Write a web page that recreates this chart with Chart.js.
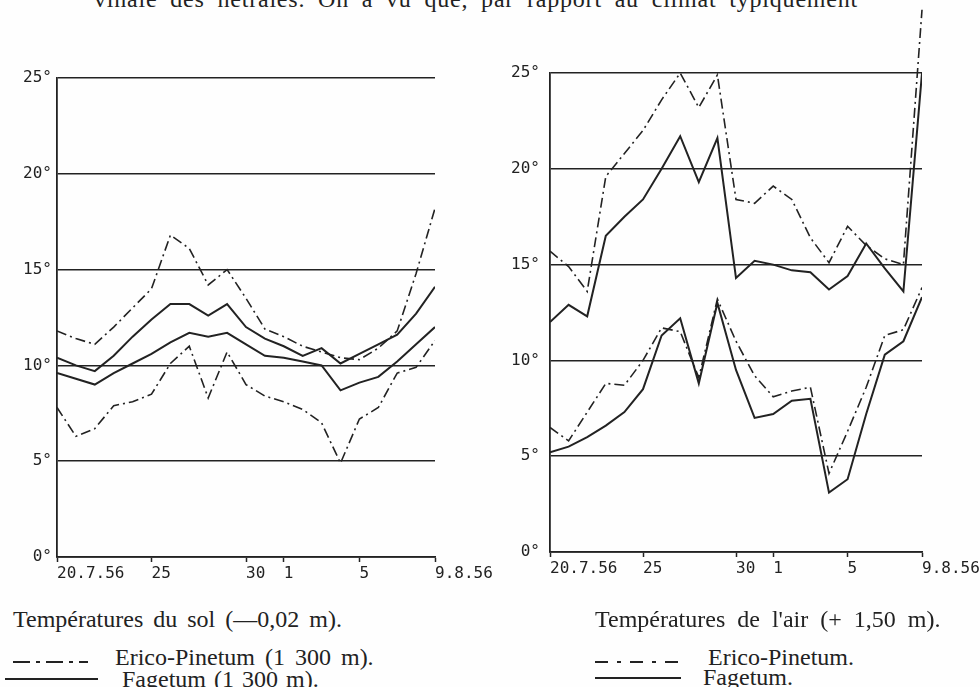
<!DOCTYPE html>
<html>

<head>
   <meta charset="UTF-8">
   <title>Températures du sol et de l'air</title>
   <script src="https://cdn.jsdelivr.net/npm/chart.js@4"></script>
   <style>
      body { margin: 0; width: 980px; height: 687px; background: #fefefe; position: relative; overflow: hidden; }
      canvas { position: absolute; top: 0; }
      #soilChart { left: 0; }
      #airChart { left: 475px; }
      .txt { position: absolute; font-family: "Liberation Serif", serif; font-size: 24px; line-height: 23px; color: #222; white-space: nowrap; }
      svg { position: absolute; }
   </style>
</head>

<body>
   <div class="txt" style="left:94px; top:-12px; letter-spacing:0.8px; word-spacing:6px">vinale des hêtraies. On a vu que, par rapport au climat typiquement</div>

   <canvas id="soilChart" width="500" height="600"></canvas>
   <canvas id="airChart" width="505" height="600"></canvas>

   <!-- left captions -->
   <div class="txt" style="left:13px; top:608px; word-spacing:4px">Températures du sol (—0,02 m).</div>
   <svg style="left:10px; top:656px" width="80" height="10">
      <line x1="3" y1="6" x2="78" y2="6" stroke="#222" stroke-width="2" stroke-dasharray="17 6 4 6" />
   </svg>
   <div class="txt" style="left:115px; top:646px; word-spacing:4px">Erico-Pinetum (1 300 m).</div>
   <svg style="left:3px; top:673px" width="96" height="10">
      <line x1="2" y1="6" x2="95" y2="6" stroke="#222" stroke-width="2" />
   </svg>
   <div class="txt" style="left:122px; top:668px; word-spacing:2px">Fagetum (1 300 m).</div>

   <!-- right captions -->
   <div class="txt" style="left:595px; top:608px; word-spacing:6px">Températures de l'air (+ 1,50 m).</div>
   <svg style="left:593px; top:656px" width="92" height="10">
      <line x1="2" y1="6" x2="90" y2="6" stroke="#222" stroke-width="2" stroke-dasharray="13 9 4 9" />
   </svg>
   <div class="txt" style="left:708px; top:646px">Erico-Pinetum.</div>
   <svg style="left:593px; top:672px" width="90" height="10">
      <line x1="2" y1="6" x2="88" y2="6" stroke="#222" stroke-width="2" />
   </svg>
   <div class="txt" style="left:703px; top:666px">Fagetum.</div>

   <script>
      // days since 20.7.56 (one point per day, 20.7 -> 9.8)
      const days = [0, 1, 2, 3, 4, 5, 6, 7, 8, 9, 10, 11, 12, 13, 14, 15, 16, 17, 18, 19, 20];
      const tickDays = [0, 5, 10, 12, 16, 20];
      const tickLabels = ["20.7.56", "25", "30", "1", "5", "9.8.56"];
      const yTicks = [0, 5, 10, 15, 20, 25];

      // soil temperatures (-0,02 m), max and min
      const soilEricoMax = [11.8, 11.4, 11.1, 12.0, 13.0, 14.0, 16.8, 16.1, 14.2, 15.0, 13.5, 11.9, 11.5, 11.0, 10.7, 10.4, 10.3, 10.9, 11.8, 14.8, 18.2];
      const soilFagetumMax = [10.4, 10.0, 9.7, 10.5, 11.5, 12.4, 13.2, 13.2, 12.6, 13.2, 12.0, 11.4, 11.0, 10.5, 10.9, 10.1, 10.6, 11.1, 11.6, 12.7, 14.1];
      const soilFagetumMin = [9.6, 9.3, 9.0, 9.6, 10.1, 10.6, 11.2, 11.7, 11.5, 11.7, 11.1, 10.5, 10.4, 10.2, 10.0, 8.7, 9.1, 9.4, 10.2, 11.1, 12.0];
      const soilEricoMin = [7.8, 6.3, 6.7, 7.9, 8.1, 8.5, 10.1, 11.0, 8.3, 10.7, 9.0, 8.4, 8.1, 7.7, 7.0, 4.9, 7.2, 7.8, 9.6, 9.9, 11.3];

      // air temperatures (+1,50 m), max and min
      const airEricoMax = [15.7, 14.9, 13.6, 19.6, 20.8, 22.0, 23.6, 25.0, 23.2, 24.9, 18.4, 18.2, 19.1, 18.4, 16.4, 15.1, 17.0, 16.0, 15.3, 15.0, 28.3];
      const airFagetumMax = [12.0, 12.9, 12.3, 16.5, 17.5, 18.4, 20.0, 21.7, 19.3, 21.6, 14.3, 15.2, 15.0, 14.7, 14.6, 13.7, 14.4, 16.1, 14.8, 13.6, 25.0];
      const airFagetumMin = [5.2, 5.5, 6.0, 6.6, 7.3, 8.5, 11.3, 12.2, 8.8, 13.0, 9.5, 7.0, 7.2, 7.9, 8.0, 3.1, 3.8, 7.2, 10.3, 11.0, 13.3];
      const airEricoMin = [6.5, 5.8, 7.3, 8.8, 8.7, 10.0, 11.7, 11.5, 9.1, 13.2, 11.0, 9.2, 8.1, 8.4, 8.6, 4.1, 6.3, 8.6, 11.3, 11.6, 13.8];

      const ink = "#222";
      const dashDot = [10, 4, 2, 4];
      const tickFont = { family: "DejaVu Sans Mono", size: 16 };

      function series(values, dashed, extra) {
         return Object.assign({
            data: values.map((v, i) => ({ x: days[i], y: v })),
            borderColor: ink,
            borderWidth: dashed ? 1.6 : 2,
            borderDash: dashed ? dashDot : [],
            pointRadius: 0,
            tension: 0,
            fill: false
         }, extra || {});
      }

      function makeChart(canvas, datasets, yWidth, yPad, padding) {
         return new Chart(canvas, {
            type: "line",
            data: { datasets },
            options: {
               responsive: false,
               animation: false,
               devicePixelRatio: 1,
               layout: { padding },
               plugins: { legend: { display: false }, tooltip: { enabled: false } },
               scales: {
                  x: {
                     type: "linear",
                     min: 0,
                     max: 20,
                     afterBuildTicks: s => { s.ticks = tickDays.map(v => ({ value: v })); },
                     // fixed height, and let the last label hang over the padding
                     afterFit: s => { s.height = 30; s.paddingLeft = 0; s.paddingRight = 0; },
                     ticks: {
                        autoSkip: false,
                        maxRotation: 0,
                        align: "start",
                        padding: 2,
                        color: ink,
                        font: tickFont,
                        callback: v => tickLabels[tickDays.indexOf(v)]
                     },
                     grid: { drawOnChartArea: false, drawTicks: true, tickLength: 5, tickWidth: 1.5, color: ink },
                     border: { display: true, color: ink, width: 1.8 }
                  },
                  y: {
                     min: 0,
                     max: 25,
                     afterBuildTicks: s => { s.ticks = yTicks.map(v => ({ value: v })); },
                     afterFit: s => { s.width = yWidth; s.paddingTop = 0; s.paddingBottom = 0; },
                     ticks: {
                        padding: yPad,
                        color: ink,
                        font: tickFont,
                        callback: v => v + "°"
                     },
                     grid: { drawTicks: false, color: ink, lineWidth: 1.5 },
                     border: { display: true, color: ink, width: 1.8 }
                  }
               }
            }
         });
      }

      makeChart(document.getElementById("soilChart"), [
         series(soilEricoMax, true),
         series(soilFagetumMax, false),
         series(soilFagetumMin, false),
         series(soilEricoMin, true)
      ], 57, 5, { top: 78, right: 65, bottom: 13, left: 0 });

      makeChart(document.getElementById("airChart"), [
         // the last Erico value runs off above the frame, as in the drawing
         series(airEricoMax, true, { clip: false }),
         series(airFagetumMax, false),
         series(airFagetumMin, false),
         series(airEricoMin, true)
      ], 75, 10, { top: 73, right: 58, bottom: 18, left: 0 });
   </script>
</body>

</html>
